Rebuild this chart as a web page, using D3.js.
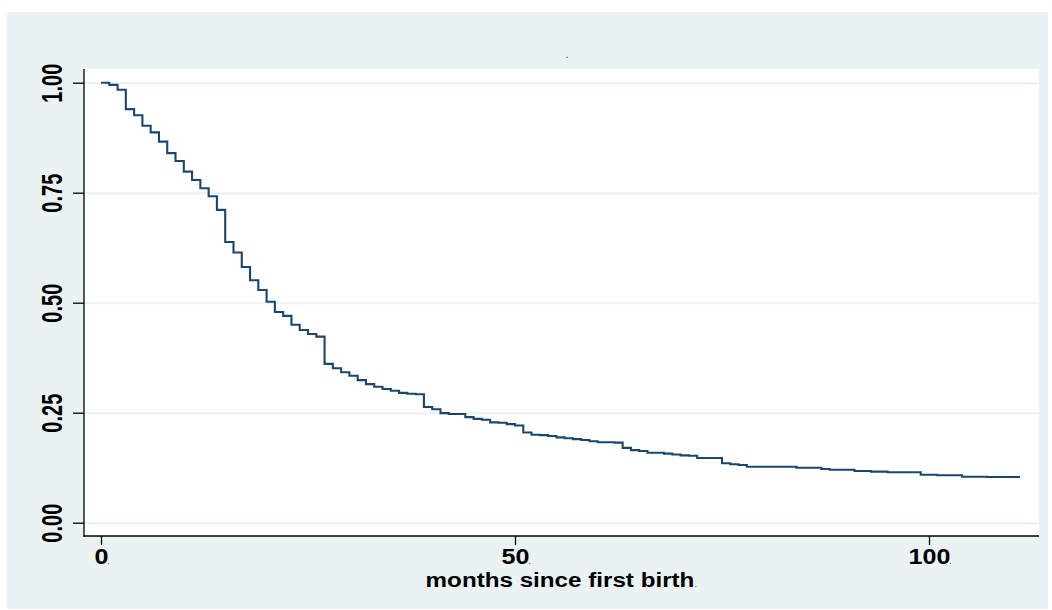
<!DOCTYPE html>
<html>
<head>
<meta charset="utf-8">
<script src="https://cdn.jsdelivr.net/npm/d3@7"></script>
<style>
  html, body { margin: 0; padding: 0; background: #ffffff; }
  svg { display: block; }
  text { font-family: "Liberation Sans", Arial, Helvetica, sans-serif; }
</style>
</head>
<body>
<div id="chart"></div>
<script>
// ---- data ----
const months = [0,1,2,3,4,5,6,7,8,9,10,11,12,13,14,15,16,17,18,19,20,21,22,23,24,25,26,
  27,28,29,30,31,32,33,34,35,36,37,38,39,40,41,42,44,45,46,47,48,49,50,51,52,53,54,55,56,
  57,58,59,60,62,63,64,65,66,68,69,70,71,72,75,76,77,78,84,87,88,91,93,95,99,101,104,107,111];
const survival = [1.000,0.995,0.984,0.940,0.926,0.902,0.887,0.866,0.840,0.822,0.798,0.779,
  0.760,0.742,0.711,0.638,0.614,0.581,0.551,0.529,0.502,0.479,0.470,0.450,0.438,0.429,0.423,
  0.361,0.351,0.342,0.334,0.324,0.315,0.309,0.304,0.300,0.295,0.293,0.292,0.263,0.258,0.249,
  0.247,0.240,0.236,0.234,0.228,0.227,0.224,0.221,0.205,0.200,0.199,0.197,0.194,0.192,0.190,
  0.188,0.185,0.183,0.182,0.170,0.165,0.163,0.159,0.157,0.155,0.153,0.152,0.147,0.135,0.133,
  0.131,0.127,0.125,0.122,0.1205,0.1175,0.116,0.1145,0.109,0.1077,0.1045,0.104,0.104];
const xTicks = [0, 50, 100];
const yTicks = [0, 0.25, 0.5, 0.75, 1];
const xTitle = "months since first birth";
const chartTitle = ".";

// ---- layout ----
const W = 1052, H = 610;
const panel = {x: 7, y: 12, w: 1041, h: 597};
const plot = {left: 84, top: 69, right: 1039, bottom: 536};
const bg = "#eaf2f3", lineColor = "#1a476f";

const svg = d3.select("#chart").append("svg").attr("width", W).attr("height", H);
svg.append("rect").attr("x", 0).attr("y", 0).attr("width", W).attr("height", H).attr("fill", "#ffffff");
svg.append("rect").attr("x", panel.x).attr("y", panel.y).attr("width", panel.w).attr("height", panel.h).attr("fill", bg);
svg.append("rect").attr("x", plot.left).attr("y", plot.top)
  .attr("width", plot.right - plot.left).attr("height", plot.bottom - plot.top).attr("fill", "#ffffff");

const x = d3.scaleLinear().domain([0, 100]).range([101, 929]);
const y = d3.scaleLinear().domain([0, 1]).range([522.7, 82.7]);

// gridlines
const grid = svg.append("g").attr("transform", `translate(${plot.left + 1},0)`)
  .call(d3.axisLeft(y).tickValues(yTicks).tickSize(-(plot.right - plot.left - 1)).tickFormat(""));
grid.select(".domain").remove();
grid.selectAll("line").attr("stroke", bg).attr("stroke-width", 2);

// curve
const data = months.map((m, i) => ({m, s: survival[i]}));
const line = d3.line().x(d => x(d.m)).y(d => y(d.s)).curve(d3.curveStepAfter);
svg.append("path").datum(data).attr("d", line)
  .attr("fill", "none").attr("stroke", lineColor).attr("stroke-width", 2.1)
  .attr("stroke-linejoin", "miter");

// y axis
const yAxis = svg.append("g").attr("transform", `translate(${plot.left},0)`)
  .call(d3.axisLeft(y).tickValues(yTicks).tickSize(11).tickFormat(d3.format(".2f")));
yAxis.select(".domain").remove();
yAxis.selectAll("line").attr("stroke", "#000").attr("stroke-width", 1.3);
yAxis.selectAll("text")
  .attr("x", null).attr("dy", null)
  .attr("text-anchor", "middle")
  .attr("fill", "#000")
  .style("font-size", "20px").style("font-weight", "bold")
  .attr("transform", `translate(${62 - plot.left},0) rotate(-90) scale(1,1.5)`)
  .attr("y", 0);

// x axis
const xAxis = svg.append("g").attr("transform", `translate(0,${plot.bottom})`)
  .call(d3.axisBottom(x).tickValues(xTicks).tickSize(9).tickFormat(d3.format("d")));
xAxis.select(".domain").remove();
xAxis.selectAll("line").attr("stroke", "#000").attr("stroke-width", 1.3);
xAxis.selectAll(".tick").each(function(d) {
  const t = d3.select(this).select("text");
  t.attr("y", null).attr("dy", null).attr("x", 0)
    .attr("text-anchor", "middle").attr("fill", "#000")
    .style("font-size", "21.5px").style("font-weight", "bold")
    .attr("transform", `translate(0,${563.5 - plot.bottom}) scale(1.17,1)`);
  const w = t.node().getComputedTextLength() * 1.17;
  d3.select(this).append("text").text(".")
    .attr("x", w / 2).attr("y", 563.5 - plot.bottom)
    .attr("fill", "#444").style("font-size", "9px");
});

// axis lines
svg.append("line").attr("x1", plot.left).attr("x2", plot.left).attr("y1", plot.top).attr("y2", plot.bottom + 0.65)
  .attr("stroke", "#000").attr("stroke-width", 1.3);
svg.append("line").attr("x1", plot.left - 0.65).attr("x2", plot.right).attr("y1", plot.bottom).attr("y2", plot.bottom)
  .attr("stroke", "#000").attr("stroke-width", 1.3);

// axis title
const cx = (plot.left + plot.right) / 2 - 1.5;
const tt = svg.append("text").text(xTitle)
  .attr("text-anchor", "middle").attr("fill", "#000")
  .style("font-size", "20px").style("font-weight", "bold")
  .attr("transform", `translate(${cx},587) scale(1.21,1)`);
const tw = tt.node().getComputedTextLength() * 1.21;
svg.append("text").text(".").attr("x", cx + tw / 2).attr("y", 587)
  .attr("fill", "#444").style("font-size", "9px");

// title (a single dot)
svg.append("text").text(chartTitle).attr("x", 567).attr("y", 58)
  .attr("text-anchor", "middle").attr("fill", lineColor).style("font-size", "11px");
</script>
</body>
</html>
